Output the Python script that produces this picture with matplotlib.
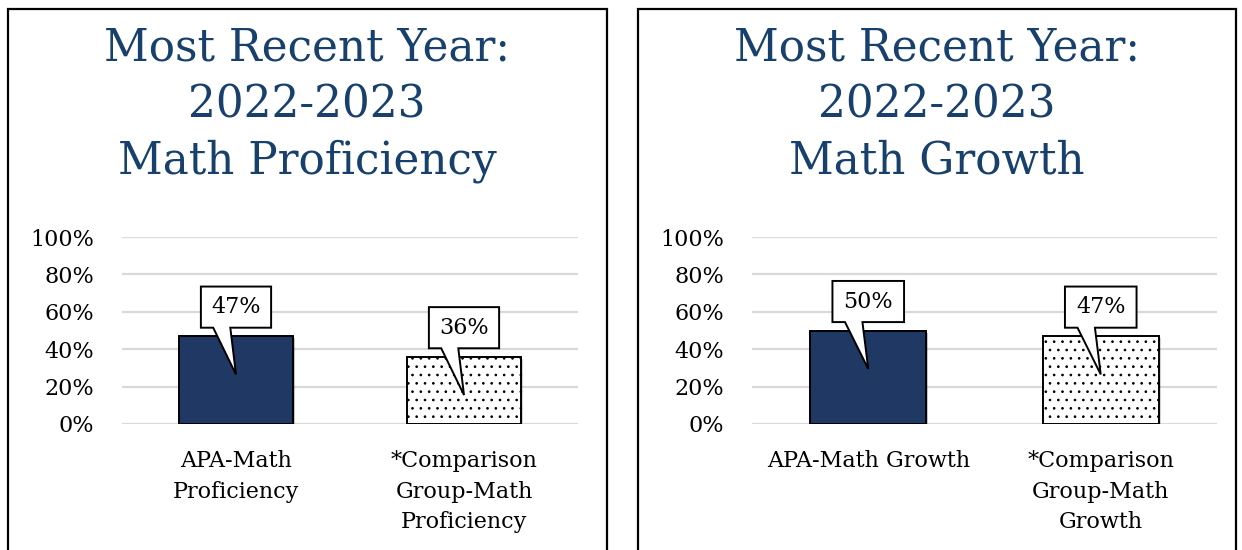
import matplotlib.pyplot as plt
from matplotlib.patches import Polygon, Rectangle
import matplotlib.patheffects as pe

plt.rcParams['font.family'] = ['DejaVu Serif']
plt.rcParams['hatch.linewidth'] = 0.7

W, H = 1242, 550

# chart data
titles = ['Most Recent Year:\n2022-2023\nMath Proficiency',
          'Most Recent Year:\n2022-2023\nMath Growth']
labels_left = ['APA-Math\nProficiency', '*Comparison\nGroup-Math\nProficiency']
labels_right = ['APA-Math Growth', '*Comparison\nGroup-Math\nGrowth']
values_left = [47, 36]
values_right = [50, 47]
yticks = [0, 20, 40, 60, 80, 100]

title_color = '#17406D'
navy = '#203864'
grid_color = '#D9D9D9'

fig = plt.figure(figsize=(W / 100, H / 100), dpi=100)

# panel frames (pixel boxes: left, right, top)
panels = [(8, 607, 9), (638, 1236, 9)]
for x0, x1, top in panels:
    fig.patches.append(Rectangle((x0 / W, -0.05), (x1 - x0) / W, (H - top) / H + 0.05,
                                 transform=fig.transFigure, fill=False,
                                 edgecolor='black', linewidth=1.6))


def callout(ax, i, v):
    # speech-bubble label above the bar, pointer dipping into it
    x0, x1 = i - 0.154, i + 0.154
    y0, y1 = v + 4.5, v + 26.5
    pts = [(x0, y0), (i - 0.10, y0), (i, v - 20.5), (i - 0.025, y0),
           (x1, y0), (x1, y1), (x0, y1)]
    ax.add_patch(Polygon(pts, closed=True, facecolor='white', edgecolor='black',
                         linewidth=1.4, zorder=5, clip_on=False))
    ax.text(i, (y0 + y1) / 2, f'{v}%', ha='center', va='center',
            fontsize=16, zorder=6)


def draw(ax_box, title, tcx, labels, values):
    l, r = ax_box
    ax = fig.add_axes([l / W, 126 / H, (r - l) / W, 187 / H])
    x = list(range(len(values)))
    bars = ax.bar(x, values, width=0.5, edgecolor='black', linewidth=1.4, zorder=3)
    bars[0].set_facecolor(navy)
    bars[1].set_facecolor('white')
    bars[1].set_hatch('..')
    for b in bars:
        b.set_path_effects([pe.SimplePatchShadow(offset=(1.5, -1.5), alpha=0.25), pe.Normal()])
    for i, v in enumerate(values):
        callout(ax, i, v)
    ax.set_xlim(-0.5, 1.5)
    ax.set_ylim(0, 100)
    ax.set_yticks(yticks)
    ax.set_yticklabels([f'{t}%' for t in yticks], fontsize=16)
    ax.set_xticks(x)
    ax.set_xticklabels(labels, fontsize=16, linespacing=1.5)
    ax.tick_params(length=0)
    ax.tick_params(axis='y', pad=20)
    ax.tick_params(axis='x', pad=19)
    ax.grid(axis='y', color=grid_color, linewidth=1.6, zorder=0)
    for s in ax.spines.values():
        s.set_visible(False)
    fig.text(tcx / W, 1 - 26 / H, title, ha='center', va='top', fontsize=31.5,
             color=title_color, linespacing=1.4)


draw((122, 578), titles[0], 307, labels_left, values_left)
draw((752, 1217), titles[1], 937, labels_right, values_right)

fig.savefig('out.png', dpi=100)
